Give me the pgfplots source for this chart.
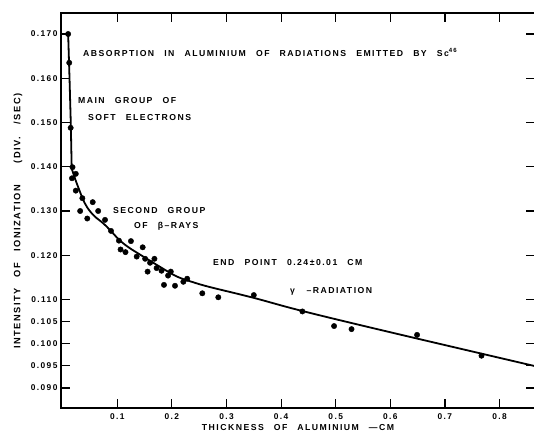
\documentclass[border=0pt]{standalone}
\usepackage{fontspec}
\usepackage{pgfplots}
\pgfplotsset{compat=1.18}
\newfontfamily\lblfont[LetterSpace=17,WordSpace=2.2]{Liberation Sans Bold}
\newfontfamily\ylblfont[LetterSpace=17,WordSpace=2.6]{Liberation Sans Bold}
\newcommand\lbl{\lblfont\fontsize{8.7}{10}\selectfont}
\newcommand\tlbl{\lblfont\fontsize{8.4}{10}\selectfont}
\newcommand\ylbl{\ylblfont\fontsize{9.3}{10}\selectfont}
\begin{document}
\begin{tikzpicture}
\useasboundingbox (0,0) rectangle (534bp,432bp);
\begin{axis}[
  at={(61bp,24bp)}, anchor=south west, scale only axis,
  width=474bp, height=395bp,
  xmin=-0.0031, xmax=0.865, ymin=0.08548, ymax=0.17475,
  xtick={0.1,0.2,0.3,0.4,0.5,0.6,0.7,0.8},
  ytick={0.090,0.095,0.100,0.105,0.110,0.120,0.130,0.140,0.150,0.160,0.170},
  scaled ticks=false,
  /pgf/number format/assume math mode=true,
  xticklabel style={/pgf/number format/fixed, /pgf/number format/precision=1, yshift=-2bp},
  yticklabel style={/pgf/number format/fixed, /pgf/number format/fixed zerofill, /pgf/number format/precision=3},
  tick label style={font=\tlbl},
  major tick length=9bp,
  tick style={line width=1.2bp, black},
  axis line style={line width=1.4bp},
  xlabel={THICKNESS OF ALUMINIUM \textemdash CM},
  ylabel={INTENSITY OF IONIZATION \ (DIV. \,/SEC)},
  xlabel style={font=\lbl, at={(axis description cs:0.5,-0.0506)}, anchor=center},
  ylabel style={font=\ylbl, at={(axis description cs:-0.0907,0.473)}, anchor=center},
  clip=true,
]
% fitted curve: steep part
\addplot[black, line width=1.8bp] coordinates {
 (0.010,0.1700) (0.0125,0.1600) (0.0148,0.1500) (0.0165,0.1396)
};
% fitted curve: smooth part
\addplot[black, line width=1.8bp, smooth, tension=0.6] coordinates {
 (0.0165,0.1396) (0.0256,0.1363) (0.0408,0.1317) (0.056,0.1291)
 (0.0744,0.1272) (0.0897,0.1253) (0.105,0.1233) (0.123,0.1216)
 (0.1476,0.1197) (0.178,0.1174) (0.209,0.1152) (0.239,0.1139)
 (0.270,0.1128) (0.349,0.1104) (0.439,0.1074) (0.60,0.1026) (0.87,0.0948)
};
% measured points
\addplot[only marks, mark=*, mark size=2.7bp, black] coordinates {
 (0.010,0.1700) (0.012,0.1635) (0.0146,0.1488) (0.018,0.1399)
 (0.024,0.1384) (0.017,0.1374) (0.024,0.1346) (0.036,0.1329)
 (0.055,0.1320) (0.032,0.1300) (0.065,0.1300) (0.045,0.1283)
 (0.0775,0.1280) (0.0885,0.1255) (0.103,0.1233) (0.125,0.1232)
 (0.106,0.1213) (0.115,0.1207) (0.1465,0.1218) (0.1355,0.1197)
 (0.151,0.1192) (0.168,0.1192) (0.160,0.1183) (0.172,0.1171)
 (0.181,0.1165) (0.1555,0.1163) (0.198,0.1163) (0.193,0.1154)
 (0.1855,0.1133) (0.2057,0.1131) (0.221,0.1140) (0.228,0.1147)
 (0.2557,0.1114) (0.285,0.1105) (0.350,0.1110) (0.439,0.1073)
 (0.497,0.1040) (0.529,0.1033) (0.649,0.1020) (0.767,0.0973)
};
\node[anchor=west, font=\lbl, inner sep=0pt] at (axis cs:0.0372,0.1659) {ABSORPTION IN ALUMINIUM OF RADIATIONS EMITTED BY Sc\textsuperscript{46}};
\node[anchor=west, font=\lbl, inner sep=0pt] at (axis cs:0.028,0.15486) {MAIN GROUP OF};
\node[anchor=west, font=\lbl, inner sep=0pt] at (axis cs:0.0463,0.15124) {SOFT ELECTRONS};
\node[anchor=west, font=\lbl, inner sep=0pt] at (axis cs:0.0921,0.1300) {SECOND GROUP};
\node[anchor=west, font=\lbl, inner sep=0pt] at (axis cs:0.1306,0.12666) {OF β\,–\,RAYS};
\node[anchor=west, font=\lbl, inner sep=0pt] at (axis cs:0.2753,0.11825) {END POINT 0.24\kern1.5pt±\kern1.5pt0.01 CM};
\node[anchor=west, font=\lbl, inner sep=0pt] at (axis cs:0.4163,0.11192) {γ \,–\,RADIATION};
\end{axis}
\end{tikzpicture}
\end{document}
